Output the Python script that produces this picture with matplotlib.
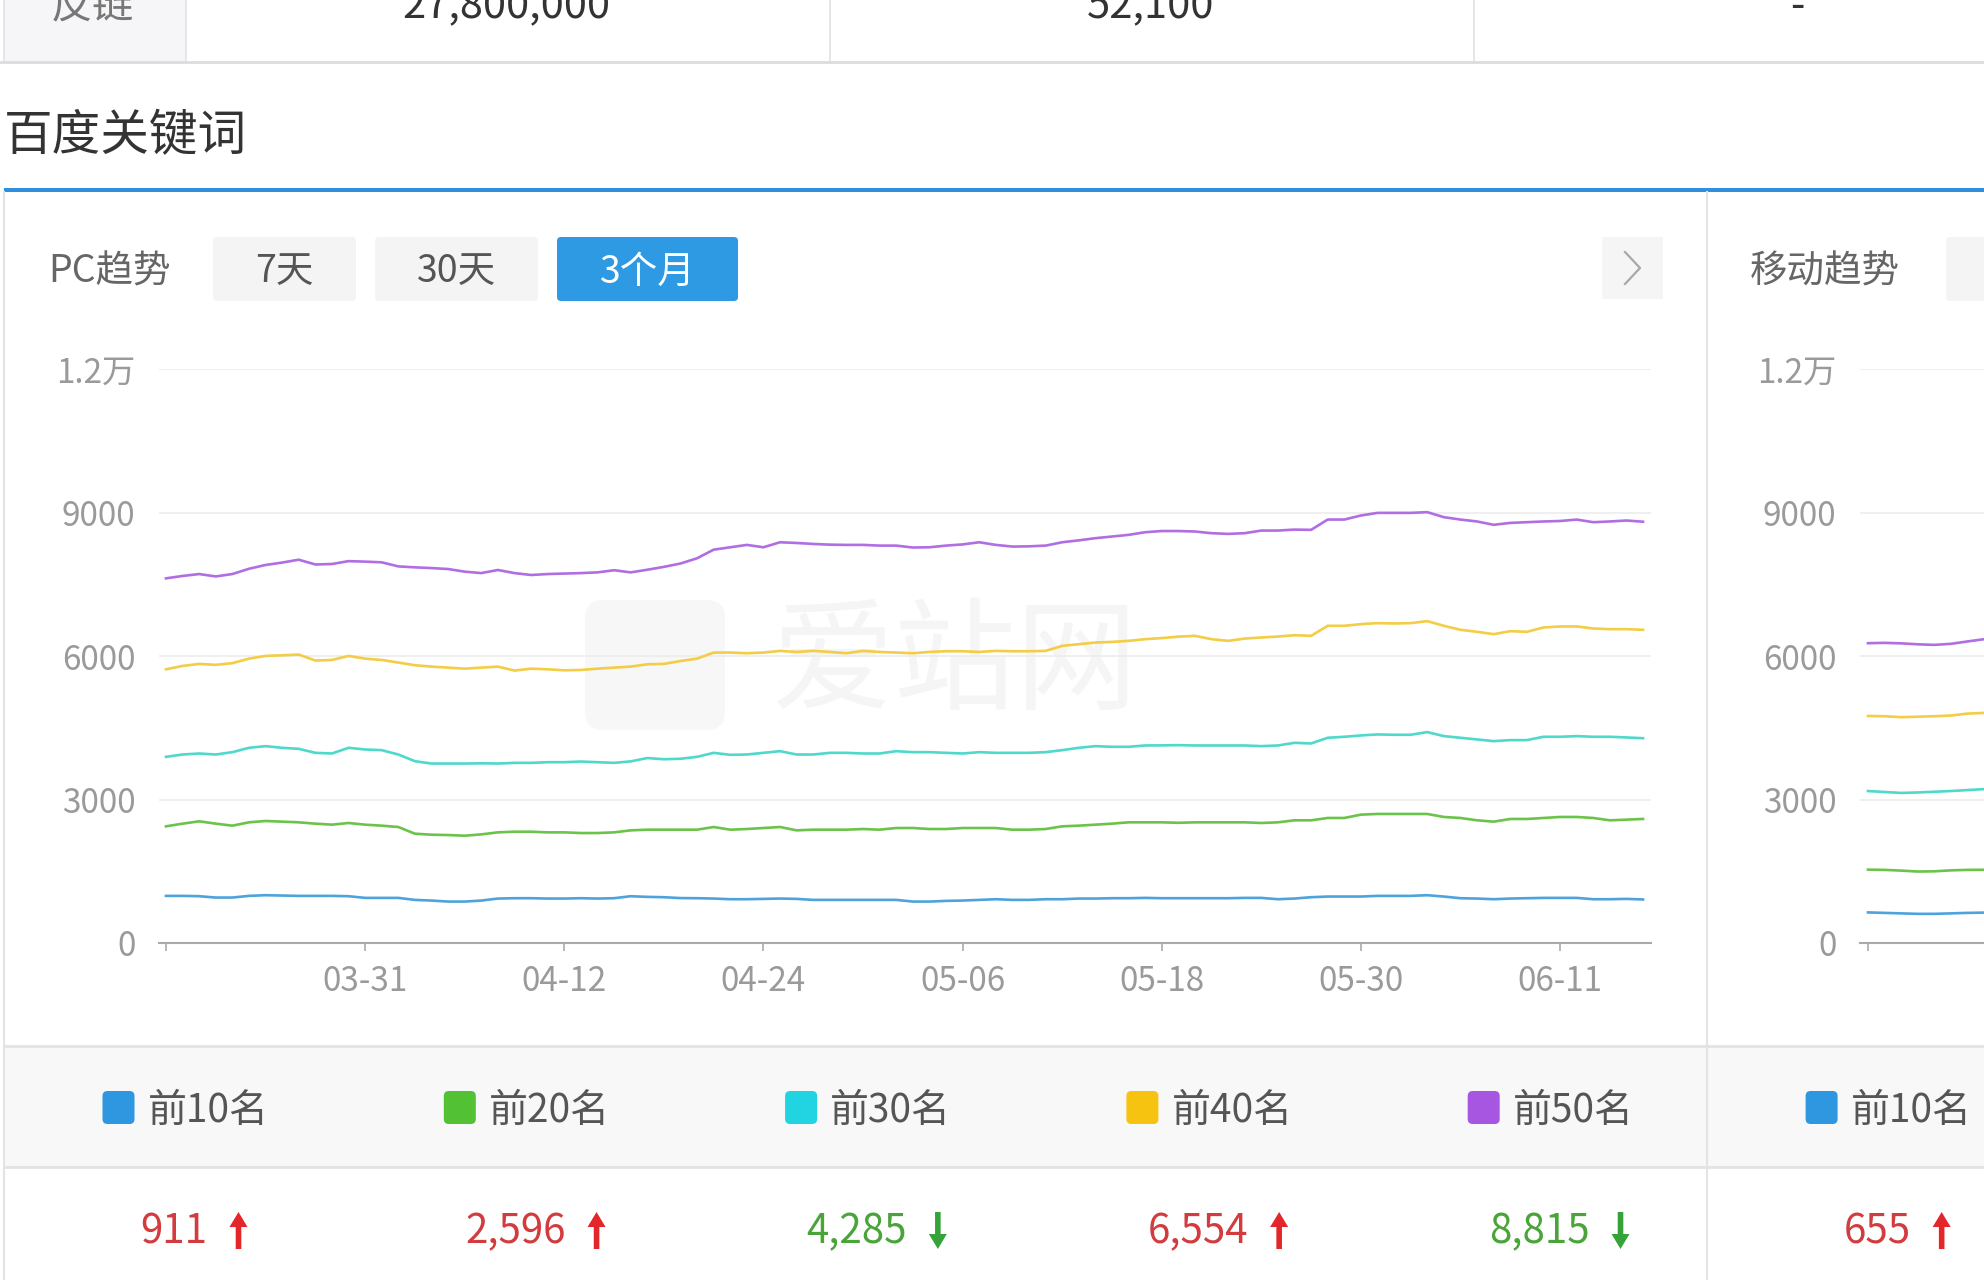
import matplotlib
matplotlib.use("Agg")
import matplotlib.pyplot as plt
from matplotlib.patches import Rectangle, FancyBboxPatch, Polygon

plt.rcParams['font.family'] = ['Noto Sans CJK SC', 'DejaVu Sans']

W, H = 1984, 1280

# ---- data -------------------------------------------------------------
table_cells = ['反链', '27,800,000', '52,100', '-']

series_names = ['前10名', '前20名', '前30名', '前40名', '前50名']

# PC trend, daily values 03-19 .. 06-16 (90 days)
pc_top10 = [986, 986, 979, 951, 951, 986, 1000, 993, 986, 986, 986, 979, 944, 944, 944, 902,
            888, 867, 867, 888, 930, 937, 937, 930, 930, 937, 930, 937, 979, 965, 958, 940,
            937, 930, 916, 916, 923, 930, 923, 902, 902, 902, 902, 902, 902, 867, 867, 881,
            888, 902, 916, 902, 902, 916, 916, 930, 930, 937, 937, 944, 937, 937,
            937, 937, 937, 944, 944, 916, 930, 958, 972, 972, 972, 986, 986, 986, 1000, 972,
            937, 930, 916, 930, 937, 944, 944, 944, 916, 916, 923, 911]
pc_top20 = [2441, 2497, 2546, 2497, 2455, 2525, 2553, 2539, 2525, 2497, 2476, 2511, 2476, 2455,
            2427, 2287, 2266, 2259, 2245, 2273, 2315, 2329, 2329, 2315, 2315, 2301, 2301, 2315,
            2357, 2371, 2371, 2371,
            2371, 2427, 2371, 2385, 2406, 2427, 2357, 2371, 2371, 2371, 2385, 2371, 2406, 2406,
            2385, 2385, 2406, 2406, 2406, 2371, 2371, 2385, 2441, 2455, 2476, 2497, 2525, 2525,
            2525, 2515,
            2525, 2525, 2525, 2525, 2511, 2525, 2567, 2567, 2616, 2616, 2686, 2700, 2700, 2700,
            2700, 2637, 2616, 2567, 2539, 2595, 2595, 2616, 2637, 2637, 2616, 2567, 2581, 2596]
pc_top30 = [3895, 3944, 3965, 3944, 3993, 4084, 4119, 4084, 4063, 3979, 3965, 4084, 4049, 4035,
            3944, 3804, 3755, 3755, 3755, 3760, 3755, 3769, 3769, 3783, 3783, 3797, 3783, 3769,
            3800, 3870, 3845, 3855,
            3895, 3979, 3937, 3944, 3979, 4014, 3944, 3944, 3979, 3979, 3965, 3965, 4014, 3993,
            3993, 3979, 3965, 3993, 3979, 3979, 3979, 3993, 4035, 4084, 4119, 4105, 4105, 4133,
            4135, 4140,
            4133, 4133, 4133, 4133, 4119, 4133, 4189, 4175, 4294, 4315, 4343, 4364, 4357, 4357,
            4413, 4329, 4294, 4259, 4224, 4245, 4245, 4315, 4315, 4329, 4315, 4315, 4301, 4285]
pc_top40 = [5727, 5797, 5840, 5820, 5855, 5950, 6007, 6020, 6035, 5910, 5922, 6007, 5950, 5922,
            5868, 5812, 5783, 5762, 5740, 5762, 5783, 5700, 5740, 5727, 5706, 5713, 5740, 5762,
            5783, 5832, 5840, 5900,
            5950, 6077, 6077, 6063, 6077, 6112, 6090, 6112, 6090, 6063, 6112, 6090, 6077, 6063,
            6090, 6105, 6105, 6090, 6112, 6105, 6105, 6112, 6217, 6252, 6287, 6300, 6322, 6357,
            6380, 6410,
            6427, 6357, 6322, 6370, 6392, 6413, 6440, 6427, 6637, 6637, 6672, 6693, 6686, 6693,
            6735, 6637, 6553, 6511, 6462, 6525, 6511, 6602, 6623, 6623, 6581, 6567, 6567, 6554]
pc_top50 = [7630, 7680, 7720, 7670, 7720, 7830, 7910, 7960, 8020, 7920, 7930, 7990, 7980, 7965,
            7880, 7860, 7845, 7825, 7770, 7740, 7805, 7740, 7700, 7720, 7730, 7740, 7755, 7800,
            7755, 7810, 7870, 7940,
            8050, 8230, 8280, 8330, 8280, 8385, 8370, 8350, 8335, 8330, 8330, 8315, 8315, 8275,
            8280, 8315, 8340, 8385, 8330, 8295, 8300, 8315, 8385, 8425, 8470, 8505, 8540, 8595,
            8620, 8620,
            8610, 8575, 8560, 8575, 8630, 8630, 8650, 8645, 8860, 8860, 8945, 9000, 9000, 9000,
            9015, 8910, 8860, 8820, 8750, 8790, 8805, 8820, 8830, 8860, 8805, 8820, 8840, 8815]
pc_trend = ['up', 'up', 'down', 'up', 'down']

# mobile trend, only the first days are visible in the screenshot
mob_top10 = [640, 630, 620, 610, 610, 620, 630, 636]
mob_top20 = [1535, 1530, 1515, 1495, 1500, 1520, 1530, 1532]
mob_top30 = [3180, 3160, 3140, 3150, 3165, 3180, 3200, 3220]
mob_top40 = [4750, 4745, 4725, 4735, 4745, 4760, 4800, 4815]
mob_top50 = [6273, 6280, 6270, 6250, 6238, 6260, 6310, 6357]
mob_latest = 655
mob_trend = 'up'

tick_days = [0, 12, 24, 36, 48, 60, 72, 84]
tick_labels = ['', '03-31', '04-12', '04-24', '05-06', '05-18', '05-30', '06-11']
y_ticks = [0, 3000, 6000, 9000, 12000]
y_labels = ['0', '3000', '6000', '9000', '1.2万']

# ---- style ------------------------------------------------------------
colors = ['#2f96e0', '#52c234', '#22d3e2', '#f5c310', '#a756e2']
line_colors = ['#4fa3dc', '#6cc34a', '#4fd8cc', '#f2cd45', '#b06ee2']
RED, RED_ARROW = '#d23c3e', '#e3262a'
GREEN, GREEN_ARROW = '#4aa43a', '#35a339'

fig = plt.figure(figsize=(W / 100, H / 100), dpi=100)
fig.patch.set_facecolor('white')

# page layer in pixel coordinates (y down)
pg = fig.add_axes([0, 0, 1, 1])
pg.set_xlim(0, W)
pg.set_ylim(H, 0)
pg.axis('off')

# top table row (cut off at the top edge, as in the screenshot)
pg.add_patch(Rectangle((4, -5), 182, 67, fc='#f6f6f8', ec='none'))
for x in [4, 186, 830, 1474]:
    pg.plot([x, x], [0, 62], color='#e2e2e2', lw=1.2)
pg.plot([0, W], [62, 62], color='#dcdcdc', lw=2)
cell_x = [92, 506, 1151, 1797]
for x, s in zip(cell_x, table_cells):
    pg.text(x, 18, s, ha='center', va='baseline', fontsize=30,
            color='#777' if s == '反链' else '#333')

# section title + blue rule
pg.text(4, 136, '百度关键词', ha='left', va='center', fontsize=35, color='#333')
pg.add_patch(Rectangle((4, 188), W, 4, fc='#2f8fdd', ec='none'))

# panel borders
pg.plot([4, 4], [192, H], color='#e4e4e4', lw=1.5)
pg.plot([1707, 1707], [192, H], color='#e4e4e4', lw=1.5)

# header controls
pg.text(48, 272, 'PC趋势', ha='left', va='center', fontsize=27, color='#666')
buttons = [('7天', 213, 143, False), ('30天', 375, 163, False), ('3个月', 557, 181, True)]
for label, x, w, active in buttons:
    pg.add_patch(FancyBboxPatch((x, 237), w, 64, boxstyle='round,pad=0,rounding_size=4',
                                fc='#2e9ae4' if active else '#f4f4f4', ec='none'))
    pg.text(x + w / 2, 272, label, ha='center', va='center', fontsize=27,
            color='white' if active else '#555')
pg.add_patch(Rectangle((1602, 237), 61, 62, fc='#f5f5f5', ec='none'))
pg.plot([1625, 1640, 1625], [252, 268, 284], color='#a8a8a8', lw=1.6)
pg.text(1750, 272, '移动趋势', ha='left', va='center', fontsize=27, color='#666')
pg.add_patch(FancyBboxPatch((1946, 237), 80, 64, boxstyle='round,pad=0,rounding_size=4',
                            fc='#f4f4f4', ec='none'))

# faint watermark
pg.add_patch(FancyBboxPatch((585, 600), 140, 130, boxstyle='round,pad=0,rounding_size=18',
                            fc='#f7f7f7', ec='none', zorder=0))
pg.text(955, 666, '爱站网', ha='center', va='center', fontsize=88, color='#f5f5f5', zorder=0)

# legend band
pg.add_patch(Rectangle((4, 1046), W, 121, fc='#f8f8f8', ec='none'))
pg.plot([4, W], [1046, 1046], color='#e3e3e3', lw=2)
pg.plot([4, W], [1167, 1167], color='#e3e3e3', lw=2)
pg.plot([1707, 1707], [1046, 1167], color='#e4e4e4', lw=1.5)

legend_left = [102.5 + 341.3 * i for i in range(5)]
for x, name, c in zip(legend_left, series_names, colors):
    pg.add_patch(FancyBboxPatch((x, 1091), 32, 33, boxstyle='round,pad=0,rounding_size=5',
                                fc=c, ec='none'))
    pg.text(x + 45, 1111, name, ha='left', va='center', fontsize=28, color='#555')
pg.add_patch(FancyBboxPatch((1805.6, 1091), 32, 33, boxstyle='round,pad=0,rounding_size=5',
                            fc=colors[0], ec='none'))
pg.text(1850.6, 1111, series_names[0], ha='left', va='center', fontsize=28, color='#555')


def draw_arrow(x, up, color):
    top, bot, head, hw, sw = 1212, 1249, 15, 9, 2.8
    if up:
        pts = [(x, top), (x + hw, top + head), (x + sw, top + head), (x + sw, bot),
               (x - sw, bot), (x - sw, top + head), (x - hw, top + head)]
    else:
        pts = [(x, bot), (x + hw, bot - head), (x + sw, bot - head), (x + sw, top),
               (x - sw, top), (x - sw, bot - head), (x - hw, bot - head)]
    pg.add_patch(Polygon(pts, closed=True, fc=color, ec='none'))


renderer = fig.canvas.get_renderer()


def value_group(center, value, trend):
    up = trend == 'up'
    t = pg.text(0, 1232, f'{value:,}', ha='left', va='center', fontsize=29,
                color=RED if up else GREEN)
    w = t.get_window_extent(renderer).width
    total = w + 22 + 18
    x0 = center - total / 2
    t.set_x(x0)
    draw_arrow(x0 + w + 22 + 9, up, RED_ARROW if up else GREEN_ARROW)


pc_series = [pc_top10, pc_top20, pc_top30, pc_top40, pc_top50]
for x, s, tr in zip(legend_left, pc_series, pc_trend):
    value_group(x + 91.5, s[-1], tr)
value_group(1805.6 + 91.5, mob_latest, mob_trend)


# ---- charts -----------------------------------------------------------
def style_axes(a, x0):
    a.set_facecolor('none')
    for s in ['top', 'right', 'left']:
        a.spines[s].set_visible(False)
    a.spines['bottom'].set_color('#aaaaaa')
    a.spines['bottom'].set_linewidth(1.5)
    a.set_ylim(0, 12000)
    a.set_xlim(x0, x0 + 89.9)
    a.set_yticks(y_ticks)
    a.set_yticklabels(y_labels)
    a.set_xticks(tick_days)
    a.set_xticklabels(tick_labels)
    a.tick_params(axis='y', length=0, pad=17, labelsize=24, labelcolor='#9a9a9a')
    a.tick_params(axis='x', length=6, width=1.2, color='#aaaaaa', pad=9,
                  labelsize=24, labelcolor='#9a9a9a')
    a.grid(axis='y', color='#ececec', lw=1.2)
    a.set_axisbelow(True)


bottom = 1 - 943 / H
height = (943 - 369.5) / H
width = (1651 - 159) / W

ax = fig.add_axes([159 / W, bottom, width, height])
style_axes(ax, -0.42)
days = list(range(len(pc_top10)))
for s, c in zip(pc_series, line_colors):
    ax.plot(days, s, color=c, lw=1.9, solid_joinstyle='round')

ax2 = fig.add_axes([1860 / W, bottom, width, height])
style_axes(ax2, -0.48)
mob_series = [mob_top10, mob_top20, mob_top30, mob_top40, mob_top50]
mdays = list(range(len(mob_top10)))
for s, c in zip(mob_series, line_colors):
    ax2.plot(mdays, s, color=c, lw=1.9)

fig.savefig('out.png', dpi=100, facecolor='white')
